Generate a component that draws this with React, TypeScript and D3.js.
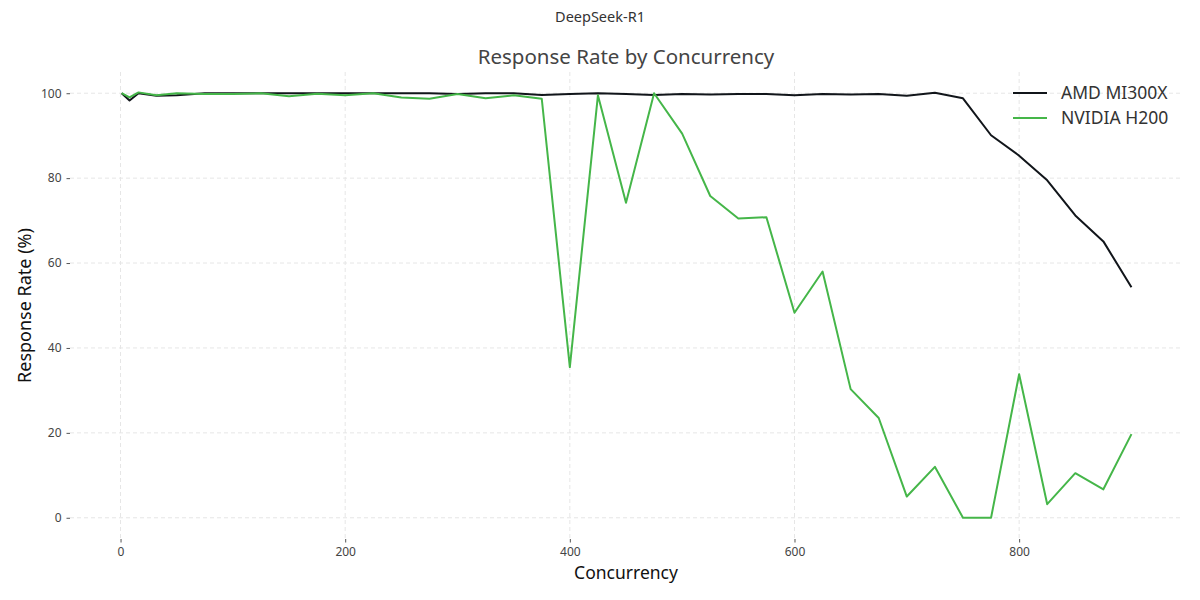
import { useEffect, useRef } from 'react'
import * as d3 from 'd3'

// concurrency levels tested
const concurrency = [
  1, 8, 16, 32, 50, 75, 100, 125, 150, 175, 200, 225, 250, 275, 300, 325, 350, 375,
  400, 425, 450, 475, 500, 525, 550, 575, 600, 625, 650, 675, 700, 725, 750, 775,
  800, 825, 850, 875, 900,
]

const amdRate = [
  100, 98.3, 100, 99.4, 99.5, 100, 100, 100, 100, 100, 100, 100, 100, 100, 99.8, 100, 100, 99.6,
  99.8, 100, 99.8, 99.6, 99.8, 99.7, 99.8, 99.8, 99.5, 99.8, 99.7, 99.8, 99.4, 100.1, 98.8, 90.1,
  85.3, 79.5, 71.2, 65.1, 54.3,
]

const nvidiaRate = [
  100, 99, 100.2, 99.5, 100, 99.8, 99.8, 100, 99.3, 99.9, 99.5, 100, 99, 98.7, 99.8, 98.8, 99.5, 98.7,
  35.5, 99.5, 74.2, 100, 90.5, 75.8, 70.5, 70.8, 48.3, 58, 30.3, 23.5, 5, 12, 0, 0,
  33.8, 3.2, 10.5, 6.7, 19.7,
]

const seriesNames = ['AMD MI300X', 'NVIDIA H200']
const seriesColors = ['#11151a', '#45b649']

const xTicks = [0, 200, 400, 600, 800]
const yTicks = [0, 20, 40, 60, 80, 100]

const FONT = '"Noto Sans", "Open Sans", sans-serif'

export default function App() {
  const svgRef = useRef<SVGSVGElement>(null)

  useEffect(() => {
    if (!svgRef.current) return
    const width = 1200
    const height = 600
    const margin = { top: 72, right: 18, bottom: 61, left: 70 }
    const innerW = width - margin.left - margin.right
    const innerH = height - margin.top - margin.bottom

    const svg = d3.select(svgRef.current)
    svg.selectAll('*').remove()
    svg.attr('width', width).attr('height', height).style('font-family', FONT)

    const x = d3.scaleLinear().domain([-45, 945]).range([0, innerW])
    const y = d3.scaleLinear().domain([-5, 105]).range([innerH, 0])

    const g = svg.append('g').attr('transform', `translate(${margin.left},${margin.top})`)

    // grid
    g.append('g')
      .selectAll('line')
      .data(yTicks)
      .join('line')
      .attr('x1', 0).attr('x2', innerW)
      .attr('y1', d => y(d)).attr('y2', d => y(d))
      .attr('stroke', '#e6e6e6').attr('stroke-dasharray', '4 3')
    g.append('g')
      .selectAll('line')
      .data(xTicks)
      .join('line')
      .attr('y1', 0).attr('y2', innerH)
      .attr('x1', d => x(d)).attr('x2', d => x(d))
      .attr('stroke', '#e6e6e6').attr('stroke-dasharray', '4 3')

    // axes
    const xAxis = g.append('g')
      .attr('transform', `translate(0,${innerH})`)
      .call(d3.axisBottom(x).tickValues(xTicks).tickSize(3.5).tickPadding(5).tickFormat(d3.format('d')))
    xAxis.select('.domain').remove()
    xAxis.selectAll('line').attr('stroke', '#555')
    xAxis.selectAll('text').attr('fill', '#444').attr('font-size', 12).style('font-family', FONT)

    const yAxis = g.append('g')
      .call(d3.axisLeft(y).tickValues(yTicks).tickSize(3.5).tickPadding(5).tickFormat(d3.format('d')))
    yAxis.select('.domain').remove()
    yAxis.selectAll('line').attr('stroke', '#555')
    yAxis.selectAll('text').attr('fill', '#444').attr('font-size', 12).style('font-family', FONT)

    // lines
    const line = d3.line<number>()
      .x((_, i) => x(concurrency[i]))
      .y(d => y(d))
    ;[amdRate, nvidiaRate].forEach((vals, i) => {
      g.append('path')
        .datum(vals)
        .attr('d', line)
        .attr('fill', 'none')
        .attr('stroke', seriesColors[i])
        .attr('stroke-width', 2)
        .attr('stroke-linejoin', 'round')
    })

    // legend
    const lg = svg.append('g').attr('transform', 'translate(1013,93)')
    seriesNames.forEach((name, i) => {
      const row = lg.append('g').attr('transform', `translate(0,${i * 25})`)
      row.append('line').attr('x1', 0).attr('x2', 34).attr('stroke', seriesColors[i]).attr('stroke-width', 2)
      row.append('text').attr('x', 48).attr('dy', '0.35em').attr('font-size', 17.5).attr('fill', '#333').text(name)
    })

    // titles
    svg.append('text')
      .attr('x', 600).attr('y', 22)
      .attr('text-anchor', 'middle').attr('font-size', 14.5).attr('fill', '#333')
      .text('DeepSeek-R1')
    svg.append('text')
      .attr('x', margin.left + innerW / 2).attr('y', 64)
      .attr('text-anchor', 'middle').attr('font-size', 20.5).attr('fill', '#444')
      .text('Response Rate by Concurrency')
    svg.append('text')
      .attr('x', margin.left + innerW / 2).attr('y', 579)
      .attr('text-anchor', 'middle').attr('font-size', 17.5).attr('fill', '#111')
      .text('Concurrency')
    svg.append('text')
      .attr('transform', `translate(31,${margin.top + innerH / 2}) rotate(-90)`)
      .attr('text-anchor', 'middle').attr('font-size', 18).attr('fill', '#111')
      .text('Response Rate (%)')
  }, [])

  return (
    <div style={{ position: 'absolute', left: 0, top: 0, background: '#fff' }}>
      <svg ref={svgRef} />
    </div>
  )
}
